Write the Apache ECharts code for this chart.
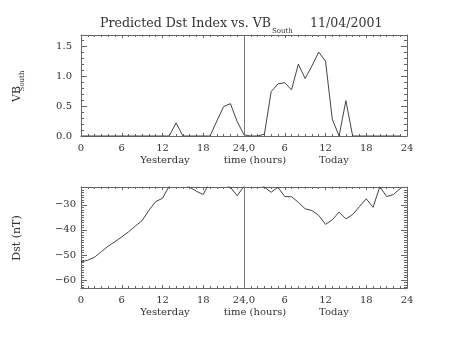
<!DOCTYPE html>
<html><head><meta charset="utf-8">
<script src="https://cdn.jsdelivr.net/npm/echarts@6/dist/echarts.min.js"></script>
<style>html,body{margin:0;padding:0;background:#fff}#c{width:454px;height:341px}</style>
</head><body><div id="c"></div>
<script>
// ---- data ----
const hours = [0,1,2,3,4,5,6,7,8,9,10,11,12,13,14,15,16,17,18,19,20,21,22,23,
               24,25,26,27,28,29,30,31,32,33,34,35,36,37,38,39,40,41,42,43,44,45,46,47];
const vbSouth = [0,0,0,0,0,0,0,0,0,0,0,0,0,0,0.22,0,0,0,0,0,0.25,0.49,0.54,0.24,
                 0.02,0,0,0.03,0.74,0.87,0.89,0.77,1.20,0.96,1.17,1.40,1.25,0.28,0,0.59,0,0,0,0,0,0,0,0];
const dst = [-52.8,-52.1,-50.9,-48.7,-46.5,-44.7,-42.8,-40.8,-38.5,-36.3,-32.2,-28.7,-27.4,-22.5,-21.5,-21.5,-23.0,-24.6,-25.9,-20.5,-21.5,-21.8,-23.0,-26.4,
             -22.6,-21.5,-21.5,-22.9,-25.0,-23.0,-26.7,-26.8,-29.0,-31.6,-32.3,-34.2,-37.8,-36.0,-32.9,-35.6,-33.9,-30.7,-27.6,-31.0,-22.8,-26.7,-25.9,-23.5];
const xTickValues = [0,6,12,18,24,30,36,42,48];
const xTickLabels = ['0','6','12','18','24,0','6','12','18','24'];
const vbTickValues = [0,0.5,1.0,1.5];
const vbTickLabels = ['0.0','0.5','1.0','1.5'];
const dstTickValues = [-60,-50,-40,-30];
const dstTickLabels = ['\u221260','\u221250','\u221240','\u221230'];
const vbRange = [0, 1.686];
const dstRange = [-63.2, -22.9];
const xRange = [0, 48];
const dayBoundary = 24;
const titleMain = 'Predicted Dst Index vs. VB';
const titleSub = 'South';
const titleDate = '11/04/2001';
const xRow2 = ['Yesterday', 'time (hours)', 'Today'];

// minor tick positions
const xMinor = []; for (let h = 1; h < 48; h++) if (h % 6) xMinor.push(h);
const vbMinor = []; for (let k = 1; k <= 16; k++) if (k % 5) vbMinor.push(+(k / 10).toFixed(1));
const dstMinor = []; for (let v = -63; v <= -23; v++) if (v % 10) dstMinor.push(v);

const FONT = '"DejaVu Serif", "Liberation Serif", serif';
const AX = '#666';
const TXT = '#333';

function labelMap(values, labels) {
  return v => { const i = values.findIndex(t => Math.abs(t - v) < 1e-6); return i >= 0 ? labels[i] : ''; };
}

const xAxes = [], yAxes = [];
function addX(grid, position, values, len, showLine, labels) {
  xAxes.push({
    gridIndex: grid, type: 'value', position, min: xRange[0], max: xRange[1],
    axisLine: { show: showLine, onZero: false, lineStyle: { color: AX, width: 1 } },
    axisTick: { show: true, inside: true, length: len, customValues: values, lineStyle: { color: AX, width: 1 } },
    axisLabel: labels ? { show: true, customValues: values, formatter: labelMap(values, labels), margin: 7,
      fontFamily: FONT, fontSize: 10, color: TXT } : { show: false },
    splitLine: { show: false }
  });
}
function addY(grid, position, range, values, len, showLine, labels, margin) {
  yAxes.push({
    gridIndex: grid, type: 'value', position, min: range[0], max: range[1],
    axisLine: { show: showLine, onZero: false, lineStyle: { color: AX, width: 1 } },
    axisTick: { show: true, inside: true, length: len, customValues: values, lineStyle: { color: AX, width: 1 } },
    axisLabel: labels ? { show: true, customValues: values, formatter: labelMap(values, labels), margin: margin,
      fontFamily: FONT, fontSize: 10, color: TXT } : { show: false },
    splitLine: { show: false }
  });
}
for (let g = 0; g < 2; g++) {
  addX(g, 'bottom', xTickValues, 3, true, xTickLabels);
  addX(g, 'bottom', xMinor, 2, false, null);
  addX(g, 'top', xTickValues, 3, true, null);
  addX(g, 'top', xMinor, 2, false, null);
}
// grid 0 y axes: indices 0..3 ; grid 1: 4..7
addY(0, 'left', vbRange, vbTickValues, 6, true, vbTickLabels, 9);
addY(0, 'left', vbRange, vbMinor, 3, false, null);
addY(0, 'right', vbRange, vbTickValues, 6, true, null);
addY(0, 'right', vbRange, vbMinor, 3, false, null);
addY(1, 'left', dstRange, dstTickValues, 6, true, dstTickLabels, 5);
addY(1, 'left', dstRange, dstMinor, 3, false, null);
addY(1, 'right', dstRange, dstTickValues, 6, true, null);
addY(1, 'right', dstRange, dstMinor, 3, false, null);

const lineStyle = { color: '#444', width: 1 };
const boundary = {
  silent: true, symbol: ['none', 'none'], label: { show: false },
  lineStyle: { color: '#777', width: 1, type: 'solid' },
  data: [{ xAxis: dayBoundary }]
};

function txt(x, y, text, size, align, valign, rot) {
  const o = { type: 'text', x, y, style: { text, font: size + 'px ' + FONT, fill: TXT,
    textAlign: align, textVerticalAlign: valign, align: align, verticalAlign: valign } };
  if (rot) o.rotation = rot;
  return o;
}

const option = {
  animation: false,
  backgroundColor: '#fff',
  grid: [
    { left: 81, top: 35, width: 326, height: 101 },
    { left: 81, top: 187, width: 326, height: 101 }
  ],
  xAxis: xAxes,
  yAxis: yAxes,
  series: [
    { type: 'line', xAxisIndex: 0, yAxisIndex: 0, data: hours.map((h, i) => [h, vbSouth[i]]),
      showSymbol: false, symbol: 'none', lineStyle, clip: true, markLine: boundary },
    { type: 'line', xAxisIndex: 4, yAxisIndex: 4, data: hours.map((h, i) => [h, dst[i]]),
      showSymbol: false, symbol: 'none', lineStyle, clip: true, markLine: boundary }
  ],
  graphic: [
    txt(271, 30, titleMain, 12.6, 'right', 'bottom'),
    txt(272, 35, titleSub, 7, 'left', 'bottom'),
    txt(310, 30, titleDate, 12.6, 'left', 'bottom'),
    txt(17, 94, 'VB', 11, 'center', 'middle', Math.PI / 2),
    txt(22, 81, 'South', 7, 'center', 'middle', Math.PI / 2),
    txt(17, 238, 'Dst (nT)', 11, 'center', 'middle', Math.PI / 2),
    txt(165, 160, xRow2[0], 10, 'center', 'middle'),
    txt(255, 160, xRow2[1], 10, 'center', 'middle'),
    txt(334, 160, xRow2[2], 10, 'center', 'middle'),
    txt(165, 312, xRow2[0], 10, 'center', 'middle'),
    txt(255, 312, xRow2[1], 10, 'center', 'middle'),
    txt(334, 312, xRow2[2], 10, 'center', 'middle')
  ]
};
const chart = echarts.init(document.getElementById('c'), null, { renderer: 'canvas' });
chart.setOption(option);
</script>
</body></html>
